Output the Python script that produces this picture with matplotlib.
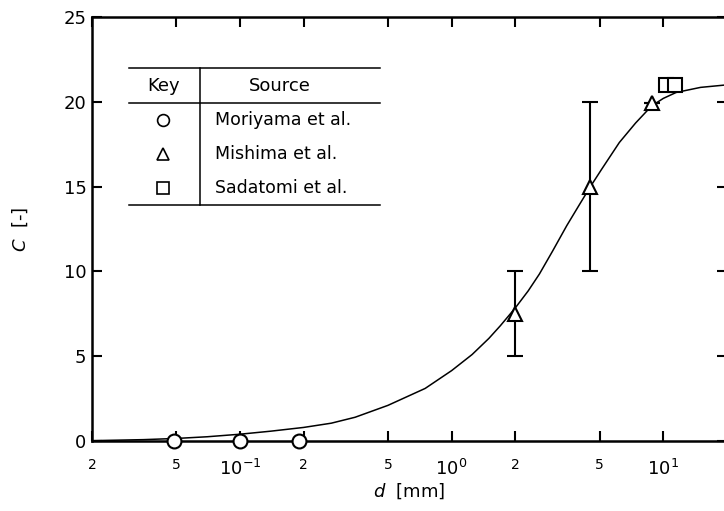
import math
import matplotlib
matplotlib.use("Agg")
import matplotlib.pyplot as plt
from matplotlib.ticker import FixedLocator, FuncFormatter
from matplotlib.lines import Line2D

# correlation curve, C [-] against d [mm]
curve_d = [0.02, 0.035, 0.05, 0.07, 0.1, 0.14, 0.2, 0.27, 0.35, 0.5, 0.75, 1.0,
           1.25, 1.5, 1.7, 2.0, 2.3, 2.6, 3.0, 3.5, 4.0, 4.5, 5.1, 6.2, 7.4,
           8.8, 10.0, 11.5, 15.0, 20.0]
curve_c = [0.02, 0.08, 0.15, 0.25, 0.4, 0.58, 0.8, 1.05, 1.4, 2.1, 3.1, 4.15,
           5.1, 6.05, 6.8, 7.85, 8.85, 9.85, 11.2, 12.7, 13.9, 14.95, 16.0, 17.6, 18.75,
           19.75, 20.2, 20.55, 20.85, 21.0]

moriyama_d = [0.049, 0.1, 0.19]
moriyama_c = [0.0, 0.0, 0.0]

mishima_d = [2.0, 4.5, 8.8]
mishima_c = [7.5, 15.0, 19.9]
mishima_err = [2.5, 5.0, 0.0]

sadatomi_d = [10.3, 11.4]
sadatomi_c = [21.0, 21.0]

sources = ["Moriyama et al.", "Mishima et al.", "Sadatomi et al."]
symbols = ["o", "^", "s"]

plt.rcParams["font.family"] = ["DejaVu Sans"]

fig = plt.figure(figsize=(7.24, 5.11), dpi=100)
ax = fig.add_axes([92 / 724, 70 / 511, 635 / 724, 424 / 511])

ax.plot(curve_d, curve_c, color="black", lw=1.1, zorder=2)

mk = dict(mfc="white", mec="black", mew=1.5, ls="none", color="black", zorder=4, clip_on=False)
ax.plot(moriyama_d, moriyama_c, "o", ms=10, **mk)
ax.errorbar(mishima_d, mishima_c, yerr=mishima_err, fmt="^", ms=10, capsize=5.5,
            elinewidth=1.5, capthick=1.5, ecolor="black", **mk)
ax.plot(sadatomi_d, sadatomi_c, "s", ms=10, **mk)

ax.set_xscale("log")
ax.set_xlim(0.02, 20)
ax.set_ylim(0, 25)
ax.set_yticks([0, 5, 10, 15, 20, 25])


def decade_label(v, pos):
    return r"$10^{%d}$" % round(math.log10(v))


def mantissa_label(v, pos):
    return "%d" % round(v / 10 ** math.floor(math.log10(v) + 1e-9))


ax.xaxis.set_major_locator(FixedLocator([0.1, 1, 10]))
ax.xaxis.set_major_formatter(FuncFormatter(decade_label))
ax.xaxis.set_minor_locator(FixedLocator([0.02, 0.05, 0.2, 0.5, 2, 5, 20]))
ax.xaxis.set_minor_formatter(FuncFormatter(mantissa_label))

for s in ax.spines.values():
    s.set_linewidth(1.8)

ax.tick_params(which="both", direction="in", top=True, right=True, length=7, width=1.5)
ax.tick_params(axis="y", labelsize=13, pad=4)
ax.tick_params(axis="x", which="major", labelsize=13, pad=13)
ax.tick_params(axis="x", which="minor", labelsize=10, pad=12)

ax.set_xlabel(r"$\it{d}$  [mm]", fontsize=13, labelpad=2)
ax.set_ylabel(r"$\it{C}$  [-]", fontsize=13, labelpad=24)

# key table drawn in axes coordinates
tr = ax.transAxes
x0, x1, xv = 0.058, 0.4535, 0.170
y_top, y_head, y_bot = 0.8797, 0.797, 0.5566
for yy in (y_top, y_head, y_bot):
    ax.add_line(Line2D([x0, x1], [yy, yy], transform=tr, color="black", lw=1.1))
ax.add_line(Line2D([xv, xv], [y_top, y_bot], transform=tr, color="black", lw=1.1))
ax.text(0.112, 0.838, "Key", transform=tr, ha="center", va="center", fontsize=13)
ax.text(0.296, 0.838, "Source", transform=tr, ha="center", va="center", fontsize=13)
for yy, name, sym in zip([0.757, 0.677, 0.597], sources, symbols):
    ax.plot([0.112], [yy], sym, transform=tr, ms=8.5, mfc="white", mec="black", mew=1.2)
    ax.text(0.194, yy, name, transform=tr, ha="left", va="center", fontsize=12.5)

fig.savefig("out.png", dpi=100)
